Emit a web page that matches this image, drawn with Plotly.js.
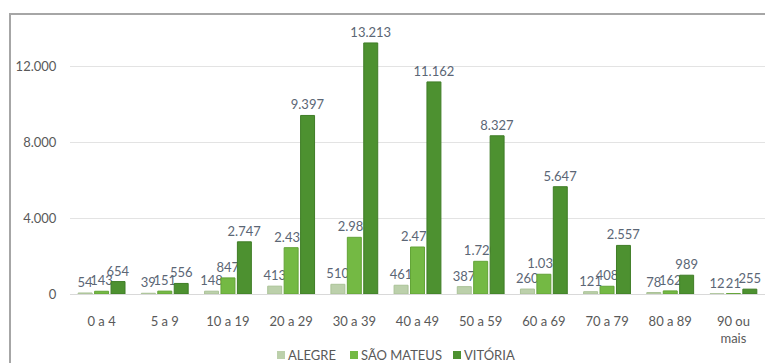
<!DOCTYPE html>
<html>
<head>
<meta charset="utf-8">
<script src="https://cdn.plot.ly/plotly-3.0.1.min.js"></script>
<style>
  html, body { margin: 0; padding: 0; background: #ffffff; }
  #wrap { position: relative; width: 765px; height: 363px; overflow: hidden; }
  #chart { position: absolute; left: 0; top: 0; width: 765px; height: 363px; }
  #frame { position: absolute; left: 9px; top: 13px; width: 800px; height: 400px;
           border-left: 2px solid #a6a6a6; border-top: 2px solid #a6a6a6; pointer-events: none; }
</style>
</head>
<body>
<div id="wrap">
  <div id="chart"></div>
  <div id="frame"></div>
</div>
<script>
// Faixas etárias
const categories = ['0 a 4', '5 a 9', '10 a 19', '20 a 29', '30 a 39', '40 a 49',
                    '50 a 59', '60 a 69', '70 a 79', '80 a 89', '90 ou<br>mais'];

// Valores por município
const alegre     = [54, 39, 148, 413, 510, 461, 387, 260, 121, 78, 12];
const saoMateus  = [143, 151, 847, 2437, 2983, 2473, 1720, 1039, 408, 162, 21];
const vitoria    = [654, 556, 2747, 9397, 13213, 11162, 8327, 5647, 2557, 989, 255];

const seriesNames = ['ALEGRE', 'SÃO MATEUS', 'VITÓRIA'];
const yTicks = [0, 4000, 8000, 12000];

const fmt = v => v.toString().replace(/\B(?=(\d{3})+(?!\d))/g, '.');

const FONT = 'Lato, "Open Sans", sans-serif';
const labelFont = { family: FONT, size: 13, color: '#5b6675' };

// plot area in pixels, used to place the legend below it
const W = 765, H = 363;
const M = { l: 70, r: 0, t: 28, b: 69 };
const px = x => (x - M.l) / (W - M.l - M.r);
const py = y => (H - M.b - y) / (H - M.t - M.b);

const fills = ['#bcd0ab', '#74b944', '#4d9130'];
const edges = ['#aac297', '#62a336', '#3f7d26'];

function series(i, values) {
  return {
    type: 'bar',
    name: seriesNames[i],
    x: categories,
    y: values,
    text: values.map(fmt),
    textposition: 'outside',
    textangle: 0,
    constraintext: 'none',
    cliponaxis: false,
    textfont: labelFont,
    hoverinfo: 'x+y+name',
    showlegend: false,
    marker: { color: fills[i], line: { color: edges[i], width: 1 } }
  };
}

const data = [series(0, alegre), series(1, saoMateus), series(2, vitoria)];

// legend: small square keys with the series names next to them
const legendKeys = [277, 350, 453];
const legendY = 355;
const shapes = legendKeys.map((x, i) => ({
  type: 'rect', xref: 'paper', yref: 'paper',
  x0: px(x), x1: px(x + 8), y0: py(legendY + 4), y1: py(legendY - 4),
  fillcolor: fills[i], line: { width: 0 }
}));
const annotations = legendKeys.map((x, i) => ({
  xref: 'paper', yref: 'paper',
  x: px(x + 9), y: py(legendY),
  xanchor: 'left', yanchor: 'middle',
  text: seriesNames[i], showarrow: false,
  font: { family: FONT, size: 13, color: '#595959' }
}));

const layout = {
  width: W,
  height: H,
  margin: M,
  paper_bgcolor: '#ffffff',
  plot_bgcolor: '#ffffff',
  separators: ',.',
  barmode: 'group',
  bargap: 0.22,
  bargroupgap: 0.15,
  font: { family: FONT, size: 13, color: '#595959' },
  showlegend: false,
  shapes: shapes,
  annotations: annotations,
  xaxis: {
    type: 'category',
    showgrid: false,
    showline: true,
    linecolor: '#d9d9d9',
    linewidth: 1,
    ticks: 'outside',
    ticklen: 15,
    tickcolor: 'rgba(0,0,0,0)',
    tickfont: { size: 13, color: '#595959' },
    fixedrange: true
  },
  yaxis: {
    range: [0, 14000],
    tickvals: yTicks,
    ticktext: yTicks.map(fmt),
    showgrid: true,
    gridcolor: '#e3e3e3',
    gridwidth: 1,
    zeroline: false,
    showline: false,
    ticks: 'outside',
    ticklen: 10,
    tickcolor: 'rgba(0,0,0,0)',
    tickfont: { size: 13, color: '#595959' },
    fixedrange: true
  }
};

Plotly.newPlot('chart', data, layout, { displayModeBar: false, staticPlot: true });
</script>
</body>
</html>
